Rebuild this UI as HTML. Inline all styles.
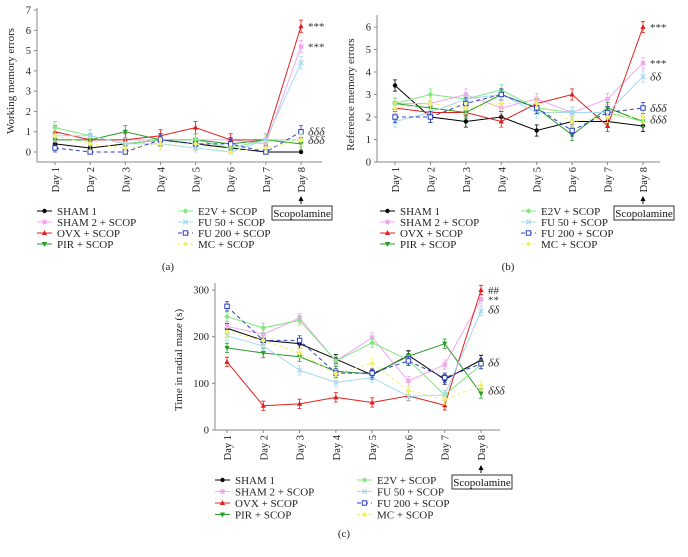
<!DOCTYPE html>
<html><head><meta charset="utf-8"><style>
body{margin:0;background:#fff;}
svg{display:block;}
svg text{font-family:"Liberation Serif","DejaVu Serif",serif;}
</style></head><body>
<svg id="fig" width="688" height="557" viewBox="0 0 688 557" xmlns="http://www.w3.org/2000/svg"></svg>
<script>
const days = ["Day 1","Day 2","Day 3","Day 4","Day 5","Day 6","Day 7","Day 8"];
const groupNames = ["SHAM 1","SHAM 2 + SCOP","OVX + SCOP","PIR + SCOP","E2V + SCOP","FU 50 + SCOP","FU 200 + SCOP","MC + SCOP"];
const ticksA = [0,1,2,3,4,5,6,7];
const ticksB = [0,1,2,3,4,5,6];
const ticksC = [0,100,200,300];
// Chart (a) working memory errors
const aSham1 = [0.4,0.2,0.4,0.6,0.4,0.2,0,0];
const aSham2 = [0.6,0.6,0.6,0.6,0.6,0.6,0.4,5.2];
const aOvx = [1.0,0.6,0.6,0.8,1.2,0.6,0.6,6.2];
const aPir = [0.6,0.6,1.0,0.6,0.6,0.4,0.6,0.4];
const aE2v = [1.2,0.8,0.4,0.6,0.6,0.2,0.6,0.6];
const aFu50 = [0.8,0.8,0.4,0.4,0.2,0.0,0.6,4.4];
const aFu200 = [0.2,0,0,0.6,0.4,0.4,0,1.0];
const aMc = [0.8,0.4,0.2,0.4,0.4,0,0.2,0.6];
// Chart (b) reference memory errors
const bSham1 = [3.4,2.0,1.8,2.0,1.4,1.8,1.8,1.6];
const bSham2 = [2.6,2.6,3.0,2.4,2.8,2.2,2.8,4.4];
const bOvx = [2.4,2.2,2.2,1.8,2.6,3.0,1.6,6.0];
const bPir = [2.6,2.4,2.2,3.0,2.4,1.2,2.4,1.8];
const bE2v = [2.6,3.0,2.8,3.2,2.4,2.2,2.2,1.8];
const bFu50 = [1.8,2.2,2.8,3.0,2.2,2.2,2.2,3.8];
const bFu200 = [2.0,2.0,2.6,3.0,2.4,1.4,2.2,2.4];
const bMc = [2.4,2.6,2.4,2.6,2.6,1.8,2.0,2.0];
// Chart (c) time in radial maze
const cSham1 = [218,192,185,152,118,160,108,150];
const cSham2 = [222,205,240,148,198,105,140,280];
const cOvx = [146,52,56,70,59,73,53,300];
const cPir = [176,165,157,126,120,158,185,78];
const cE2v = [243,219,235,148,187,150,75,140];
const cFu50 = [202,180,128,102,112,72,75,255];
const cFu200 = [265,192,192,122,122,148,112,142];
const cMc = [210,192,165,120,143,85,65,95];

const styles = [
 {c:"#000000",m:"circle",dash:""},
 {c:"#f2a8ee",m:"square",dash:""},
 {c:"#e02020",m:"tri",dash:""},
 {c:"#2a9a2a",m:"dtri",dash:""},
 {c:"#80e880",m:"diamond",dash:""},
 {c:"#a6d8f0",m:"x",dash:""},
 {c:"#3040c0",m:"osquare",dash:"4,3"},
 {c:"#f2f070",m:"diamond",dash:"3,3"}];
const NS="http://www.w3.org/2000/svg";
const svg=document.getElementById("fig");
const FF='"Liberation Serif", serif';
function el(tag,attrs,parent){const e=document.createElementNS(NS,tag);for(const k in attrs)e.setAttribute(k,attrs[k]);(parent||svg).appendChild(e);return e;}
function txt(s,attrs,parent){attrs["font-family"]=FF;const t=el("text",attrs,parent);t.textContent=s;return t;}
function marker(g,st,x,y){
 const c=st.c;
 if(st.m==="circle")el("circle",{cx:x,cy:y,r:2.2,fill:c},g);
 else if(st.m==="square")el("rect",{x:x-2.2,y:y-2.2,width:4.4,height:4.4,fill:c},g);
 else if(st.m==="osquare")el("rect",{x:x-2.2,y:y-2.2,width:4.4,height:4.4,fill:"#fff",stroke:c,"stroke-width":1},g);
 else if(st.m==="tri")el("polygon",{points:`${x},${y-3} ${x-2.6},${y+2} ${x+2.6},${y+2}`,fill:c},g);
 else if(st.m==="dtri")el("polygon",{points:`${x},${y+3} ${x-2.6},${y-2} ${x+2.6},${y-2}`,fill:c},g);
 else if(st.m==="diamond")el("polygon",{points:`${x},${y-2.8} ${x+2.8},${y} ${x},${y+2.8} ${x-2.8},${y}`,fill:c},g);
 else if(st.m==="x"){el("path",{d:`M${x-2.3},${y-2.3}L${x+2.3},${y+2.3}M${x-2.3},${y+2.3}L${x+2.3},${y-2.3}`,stroke:c,"stroke-width":1.2},g);}
}
function chart(cfg){
 const g=el("g",{});
 
 
 const ys=v=>cfg.y0-(v-cfg.vmin)/(cfg.vmax-cfg.vmin)*(cfg.y0-cfg.y1);
 const xs=i=>cfg.x1+i*(cfg.x8-cfg.x1)/(days.length-1);
 const ax=el("g",{},g);
 el("line",{x1:cfg.ax,y1:cfg.axTop,x2:cfg.ax,y2:cfg.xaxY,stroke:"#888","stroke-width":1},ax);
 cfg.ticks.forEach(t=>{const y=ys(t);el("line",{x1:cfg.ax-3,y1:y,x2:cfg.ax,y2:y,stroke:"#888"},ax);
  const tl=txt(String(t),{x:cfg.ax-6,y:y+3.5,"font-size":10.5,"text-anchor":"end",fill:"#222"},ax);});
 const yt=txt(cfg.ylabel,{x:0,y:0,"font-size":11,"text-anchor":"middle",fill:"#222",transform:`translate(${cfg.ylx},${(cfg.y0+cfg.y1)/2}) rotate(-90)`},ax);
 
 const xa=el("g",{},g);
 el("line",{x1:cfg.ax,y1:cfg.xaxY,x2:cfg.axEnd,y2:cfg.xaxY,stroke:"#888"},xa);
 days.forEach((d,i)=>{const x=xs(i);el("line",{x1:x,y1:cfg.xaxY,x2:x,y2:cfg.xaxY+3,stroke:"#888"},xa);
  const tl=txt(d,{x:0,y:0,"font-size":10.5,"text-anchor":"end",fill:"#222",transform:`translate(${x+4},${cfg.xaxY+5}) rotate(-90)`},xa);
  });
 cfg.series.forEach((vals,si)=>{
  const st=styles[si];const sg=el("g",{},g);
  
  
  const pts=vals.map((v,i)=>xs(i)+","+ys(v)).join(" ");
  el("polyline",{points:pts,fill:"none",stroke:st.c,"stroke-width":1,"stroke-dasharray":st.dash},sg);
  vals.forEach((v,i)=>{const x=xs(i),y=ys(v);const e=cfg.err;const lo=ys(Math.max(cfg.vmin,v-e)),hi=ys(v+e);
   el("path",{d:`M${x},${hi}L${x},${lo}M${x-2},${hi}L${x+2},${hi}M${x-2},${lo}L${x+2},${lo}`,stroke:st.c,"stroke-width":0.8},sg);
   marker(sg,st,x,y);});
 });
 cfg.ann.forEach(a=>{const d=a[0].includes("δ");const t=txt(a[0],{x:cfg.x8+7,y:ys(a[1])+4,"font-size":d?12:11,"font-style":d?"italic":"normal",fill:"#333"},g);
  });
 const sx=cfg.x8;
 const sc=el("g",{},g);
 el("line",{x1:sx,y1:cfg.sy-2,x2:sx,y2:cfg.sy-8,stroke:"#000"},sc);
 el("polygon",{points:`${sx},${cfg.sy-10} ${sx-2.5},${cfg.sy-5} ${sx+2.5},${cfg.sy-5}`,fill:"#000"},sc);
 el("rect",{x:sx-29,y:cfg.sy,width:60,height:14,fill:"#fff",stroke:"#000","stroke-width":0.8},sc);
 txt("Scopolamine",{x:sx+1,y:cfg.sy+11,"font-size":11,"text-anchor":"middle",fill:"#111"},sc);
 const lg=el("g",{},g);
 groupNames.forEach((n,i)=>{const col=Math.floor(i/4),row=i%4;const lx=cfg.lx+col*cfg.lcol,ly=cfg.ly+row*cfg.lrow;
  const e=el("g",{},lg);
  el("line",{x1:lx,y1:ly,x2:lx+15,y2:ly,stroke:styles[i].c,"stroke-dasharray":styles[i].dash},e);
  marker(e,styles[i],lx+7.5,ly);
  txt(n,{x:lx+20,y:ly+4,"font-size":11,fill:"#222"},e);});
 const cap=txt(cfg.cap,{x:cfg.capx,y:cfg.capy,"font-size":11,"text-anchor":"middle",fill:"#222"},g);
 
}
chart({name:"chart-working-memory",vmin:0,vmax:7,y0:152,y1:10,ax:37,axTop:8,axEnd:322,xaxY:162,x1:55,x8:301,
 ticks:ticksA,ylabel:"Working memory errors",ylx:14,err:0.3,
 series:[aSham1,aSham2,aOvx,aPir,aE2v,aFu50,aFu200,aMc],
 ann:[["***",6.2],["***",5.2],["δδδ",1.0],["δδδ",0.6]],sy:206,lx:37,ly:211,lcol:141,lrow:11,cap:"(a)",capx:168,capy:270});
chart({name:"chart-reference-memory",vmin:0,vmax:6,y0:162,y1:27,ax:377,axTop:15,axEnd:660,xaxY:162,x1:395,x8:643,
 ticks:ticksB,ylabel:"Reference memory errors",ylx:354,err:0.25,
 series:[bSham1,bSham2,bOvx,bPir,bE2v,bFu50,bFu200,bMc],
 ann:[["***",6.0],["***",4.4],["δδ",3.8],["δδδ",2.4],["δδδ",1.9]],sy:206,lx:380,ly:211,lcol:141,lrow:11,cap:"(b)",capx:508,capy:270});
chart({name:"chart-time-radial-maze",vmin:0,vmax:300,y0:430,y1:290,ax:215,axTop:283,axEnd:500,xaxY:430,x1:227,x8:481,
 ticks:ticksC,ylabel:"Time in radial maze (s)",ylx:182,err:10,
 series:[cSham1,cSham2,cOvx,cPir,cE2v,cFu50,cFu200,cMc],
 ann:[["##",300],["**",280],["δδ",258],["δδ",145],["δδδ",85]],sy:475,lx:215,ly:480,lcol:142,lrow:11.5,cap:"(c)",capx:344,capy:537});
</script>
</body></html>
